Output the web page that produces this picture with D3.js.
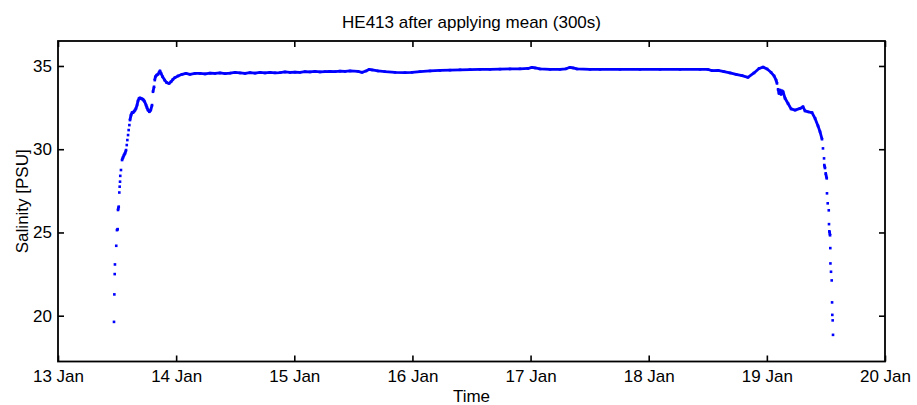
<!DOCTYPE html>
<html lang="en">
<head>
  <meta charset="UTF-8">
  <title>HE413 salinity</title>
  <script src="https://d3js.org/d3.v7.min.js" charset="utf-8"></script>
  <style>
    body { margin: 0; background: #fff; }
    svg text { font-family: "Liberation Sans", Arial, sans-serif; fill: #000; }
  </style>
</head>
<body>
<div class="chart"></div>
<script>
  // time in days of January, salinity in PSU
  var times = [
    13.474, 13.477, 13.480, 13.482, 13.493, 13.499, 13.505, 13.508, 13.514, 13.519,
    13.522, 13.525, 13.527, 13.533, 13.542, 13.550, 13.559, 13.567, 13.576, 13.582,
    13.587, 13.593, 13.598, 13.604, 13.609, 13.618, 13.627, 13.635, 13.644, 13.652,
    13.660, 13.669, 13.677, 13.686, 13.694, 13.703, 13.711, 13.719, 13.727, 13.734,
    13.745, 13.753, 13.762, 13.773, 13.785, 13.796, 13.804, 13.813, 13.819, 13.824,
    13.835, 13.846, 13.855, 13.863, 13.872, 13.886, 13.903, 13.920, 13.940, 13.956,
    13.973, 13.990, 14.016, 14.050, 14.083, 14.117, 14.160, 14.202, 14.245, 14.287,
    14.329, 14.371, 14.414, 14.456, 14.499, 14.541, 14.583, 14.625, 14.668, 14.710,
    14.752, 14.794, 14.837, 14.879, 14.921, 14.964, 15.006, 15.048, 15.091, 15.133,
    15.175, 15.218, 15.260, 15.302, 15.345, 15.387, 15.430, 15.472, 15.539, 15.573,
    15.607, 15.633, 15.658, 15.709, 15.768, 15.853, 15.937, 15.996, 16.064, 16.149,
    16.233, 16.318, 16.403, 16.487, 16.572, 16.657, 16.741, 16.826, 16.910, 16.978,
    17.012, 17.038, 17.080, 17.165, 17.249, 17.300, 17.334, 17.359, 17.393, 17.503,
    17.588, 17.757, 17.926, 18.096, 18.265, 18.434, 18.502, 18.536, 18.587, 18.637,
    18.688, 18.739, 18.790, 18.840, 18.891, 18.934, 18.968, 19.002, 19.035, 19.061,
    19.078, 19.086, 19.095, 19.103, 19.112, 19.120, 19.129, 19.137, 19.154, 19.179,
    19.205, 19.239, 19.281, 19.306, 19.323, 19.348, 19.382, 19.408, 19.433, 19.450,
    19.467, 19.475, 19.484, 19.486, 19.492, 19.498, 19.507, 19.509, 19.515, 19.524,
    19.526, 19.529, 19.535, 19.537, 19.538, 19.543, 19.549, 19.552, 19.554, 19.557,
    19.560
  ]
  var salinity = [
    19.63, 21.28, 22.50, 23.08, 24.20, 25.14, 25.20, 26.35, 26.55, 27.40,
    27.75, 28.05, 28.40, 28.75, 29.35, 29.50, 29.65, 29.75, 29.95, 30.25,
    30.55, 30.85, 31.15, 31.45, 31.75, 32.05, 32.20, 32.20, 32.28, 32.35,
    32.45, 32.65, 32.90, 33.05, 33.08, 33.05, 33.02, 33.00, 32.92, 32.85,
    32.65, 32.50, 32.35, 32.25, 32.35, 32.65, 33.45, 33.75, 34.15, 34.35,
    34.45, 34.50, 34.60, 34.70, 34.55, 34.35, 34.15, 34.00, 33.95, 34.05,
    34.20, 34.30, 34.40, 34.50, 34.55, 34.50, 34.55, 34.55, 34.52, 34.57,
    34.55, 34.58, 34.54, 34.57, 34.61, 34.58, 34.55, 34.60, 34.57, 34.61,
    34.58, 34.62, 34.59, 34.60, 34.64, 34.61, 34.63, 34.62, 34.66, 34.64,
    34.67, 34.64, 34.66, 34.68, 34.66, 34.69, 34.67, 34.70, 34.68, 34.62,
    34.70, 34.79, 34.76, 34.70, 34.66, 34.62, 34.60, 34.62, 34.66, 34.70,
    34.73, 34.75, 34.77, 34.78, 34.80, 34.80, 34.81, 34.82, 34.83, 34.85,
    34.92, 34.88, 34.82, 34.80, 34.80, 34.83, 34.92, 34.88, 34.82, 34.80,
    34.80, 34.80, 34.80, 34.80, 34.80, 34.80, 34.79, 34.72, 34.74, 34.66,
    34.58, 34.50, 34.42, 34.32, 34.58, 34.85, 34.93, 34.82, 34.62, 34.40,
    34.15, 33.95, 33.60, 33.35, 33.55, 33.30, 33.50, 33.45, 33.06, 32.75,
    32.42, 32.35, 32.45, 32.55, 32.30, 32.25, 32.20, 31.85, 31.40, 31.05,
    30.60, 30.05, 29.45, 29.05, 28.87, 28.55, 28.25, 27.35, 26.75, 26.33,
    25.50, 25.07, 24.83, 24.06, 23.14, 22.64, 22.12, 20.80, 20.05, 19.72,
    18.85
  ]
  var dayTicks = [13, 14, 15, 16, 17, 18, 19, 20]
  var salTicks = [20, 25, 30, 35]
  var title = 'HE413 after applying mean (300s)'

  var width = 917
  var height = 405
  var plotL = 58, plotR = 885, plotT = 41, plotB = 361.5
  var tickLen = 6
  var fontSize = 17
  var blue = '#0000ff'

  var svg = d3.select('.chart')
    .append('svg')
    .attr('width', width)
    .attr('height', height)

  var xScale = d3.scaleLinear().domain([13, 20]).range([plotL, plotR])
  var yScale = d3.scaleLinear().domain([17.25, 36.5]).range([plotB, plotT])

  // axes (matlab style: ticks inside, box on)
  var fmtDay = d => d + ' Jan'
  svg.append('g')
    .attr('transform', 'translate(0,' + plotB + ')')
    .call(d3.axisBottom(xScale).tickValues(dayTicks).tickFormat(fmtDay).tickSizeInner(-tickLen).tickSizeOuter(0).tickPadding(8))
  svg.append('g')
    .attr('transform', 'translate(0,' + plotT + ')')
    .call(d3.axisTop(xScale).tickValues(dayTicks).tickFormat('').tickSizeInner(-tickLen).tickSizeOuter(0))
  svg.append('g')
    .attr('transform', 'translate(' + plotL + ',0)')
    .call(d3.axisLeft(yScale).tickValues(salTicks).tickSizeInner(-tickLen).tickSizeOuter(0).tickPadding(6))
  svg.append('g')
    .attr('transform', 'translate(' + plotR + ',0)')
    .call(d3.axisRight(yScale).tickValues(salTicks).tickFormat('').tickSizeInner(-tickLen).tickSizeOuter(0))

  svg.selectAll('.domain').remove()
  svg.selectAll('.tick line').attr('stroke', '#000').attr('stroke-width', 1.6)
  svg.selectAll('.tick text').attr('font-size', fontSize).attr('font-family', '"Liberation Sans", Arial, sans-serif').attr('fill', '#000')

  svg.append('rect')
    .attr('x', plotL).attr('y', plotT)
    .attr('width', plotR - plotL).attr('height', plotB - plotT)
    .attr('fill', 'none').attr('stroke', '#000').attr('stroke-width', 1.8)

  // data: connect only close neighbours so steep parts stay as single dots
  var pts = times.map((t, i) => [t, salinity[i]])
  var segs = []
  var cur = [pts[0]]
  for (let i = 1; i < pts.length; i++) {
    let dy = Math.abs(yScale(pts[i][1]) - yScale(pts[i - 1][1]))
    let dx = Math.abs(xScale(pts[i][0]) - xScale(pts[i - 1][0]))
    if (dy > 4.5 && dy > 5 * dx) { segs.push(cur); cur = [] }
    cur.push(pts[i])
  }
  segs.push(cur)

  var line = d3.line().x(d => xScale(d[0])).y(d => yScale(d[1]))
  svg.selectAll('.trace')
    .data(segs.filter(s => s.length > 1))
    .enter()
    .append('path')
    .attr('class', 'trace')
    .attr('d', line)
    .attr('fill', 'none')
    .attr('stroke', blue)
    .attr('stroke-width', 2.8)
    .attr('stroke-linejoin', 'round')

  svg.selectAll('.dot')
    .data(pts)
    .enter()
    .append('rect')
    .attr('class', 'dot')
    .attr('x', d => xScale(d[0]) - 1.3)
    .attr('y', d => yScale(d[1]) - 1.3)
    .attr('width', 2.6)
    .attr('height', 2.6)
    .attr('fill', blue)

  // labels
  svg.append('text')
    .attr('x', (plotL + plotR) / 2).attr('y', 28)
    .attr('text-anchor', 'middle')
    .attr('font-size', fontSize)
    .text(title)
  svg.append('text')
    .attr('x', (plotL + plotR) / 2).attr('y', 402)
    .attr('text-anchor', 'middle')
    .attr('font-size', fontSize)
    .text('Time')
  svg.append('text')
    .attr('transform', 'translate(28,' + (plotT + plotB) / 2 + ') rotate(-90)')
    .attr('text-anchor', 'middle')
    .attr('font-size', fontSize)
    .text('Salinity [PSU]')
</script>
</body>
</html>
